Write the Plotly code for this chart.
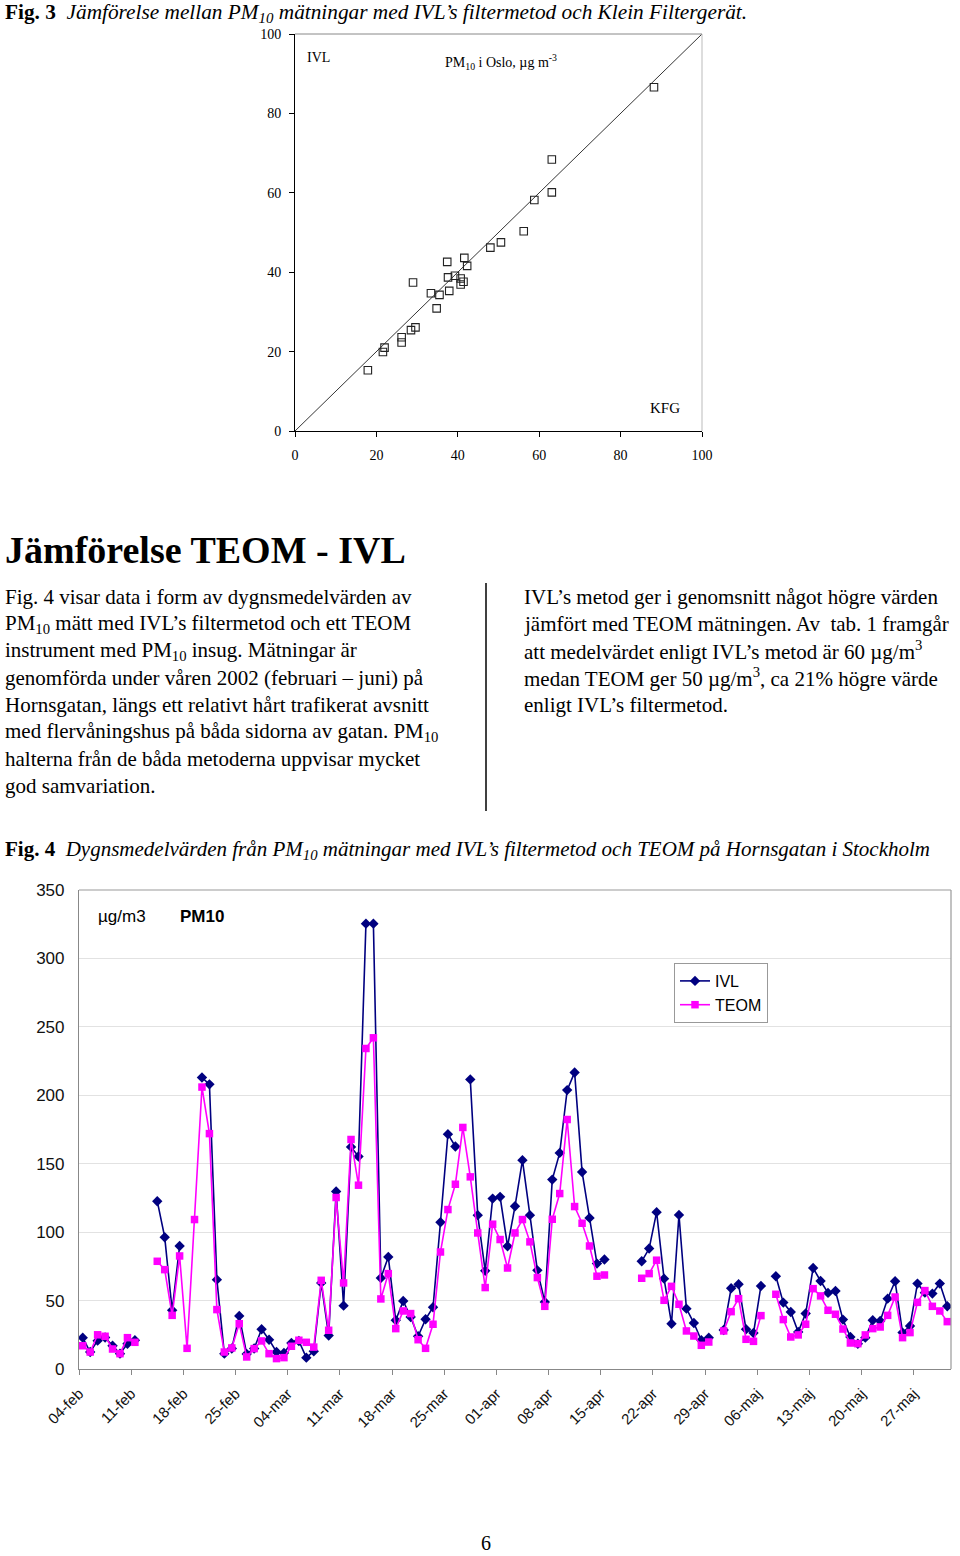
import plotly.graph_objects as go

# ---------------- Fig. 3 data (KFG vs IVL, PM10 Oslo) ----------------
kfg = [17.9, 21.6, 22.0, 26.2, 26.2, 28.5, 29.6, 29.0, 33.4, 35.5, 34.8, 37.4,
       37.6, 37.9, 39.3, 40.7, 40.7, 41.4, 41.6, 42.3, 48.0, 50.6, 56.2, 58.8,
       63.1, 63.1, 88.2]
ivl_oslo = [15.3, 19.9, 21.0, 22.3, 23.6, 25.4, 26.1, 37.4, 34.7, 34.3, 30.9, 42.6,
            38.7, 35.3, 39.1, 38.4, 36.9, 37.6, 43.6, 41.6, 46.2, 47.5, 50.3, 58.2,
            60.1, 68.4, 86.6]
diag = [0, 100]
sc_ticks = [0, 20, 40, 60, 80, 100]

# ---------------- Fig. 4 data (daily means, Hornsgatan) ----------------
# day index 0 = 04-feb
days = list(range(117))
N = None
ivl = [22.9, 12.4, 20.7, 23.0, 17.0, 11.2, 18.5, 21.0, N, N,
       122.6, 96.3, 42.9, 89.9, N, N, 213.0, 208.0, 65.3, 11.2,
       15.0, 38.8, 11.0, 15.0, 29.0, 21.4, 12.4, 11.7, 19.0, 20.5,
       8.3, 12.9, 62.9, 24.4, 129.7, 46.3, 162.3, 155.3, 325.4, 325.4,
       66.5, 81.9, 35.6, 49.7, 38.0, 23.9, 36.3, 45.1, 107.2, 171.6,
       162.6, N, 211.6, 112.4, 71.7, 124.5, 125.8, 89.7, 118.9, 152.6,
       112.4, 72.1, 49.0, 138.4, 157.9, 203.8, 216.7, 144.0, 110.4, 77.0,
       80.0, N, N, N, N, 78.7, 88.0, 114.6, 66.0, 33.1,
       112.6, 44.1, 33.6, 21.0, 22.9, N, 28.5, 59.0, 61.9, 29.0,
       26.3, 60.7, N, 67.8, 48.5, 41.7, 27.1, 40.5, 73.8, 64.3,
       55.6, 57.0, 36.1, 23.4, 18.5, 22.9, 35.6, 35.1, 51.4, 64.1,
       26.6, 31.4, 62.4, 55.8, 55.1, 62.4, 45.8]
teom = [17.0, 12.4, 25.0, 23.9, 14.6, 11.2, 22.9, 19.5, N, N,
        78.7, 72.6, 39.2, 82.6, 15.1, 109.2, 206.0, 172.0, 43.4, 12.4,
        15.4, 33.1, 8.8, 14.9, 20.5, 11.2, 7.6, 8.3, 16.6, 21.0,
        19.5, 16.0, 64.8, 28.3, 125.3, 62.9, 167.7, 134.3, 234.2, 242.0,
        51.2, 69.7, 29.5, 42.4, 40.5, 21.4, 15.1, 32.7, 85.5, 116.5,
        135.0, 176.5, 140.4, 99.4, 59.5, 105.8, 94.6, 73.8, 99.4, 109.2,
        92.9, 66.8, 45.8, 109.4, 128.2, 182.3, 118.7, 106.5, 89.9, 67.8,
        68.7, N, N, N, N, 66.3, 69.7, 79.5, 50.2, 60.4,
        47.3, 27.8, 24.1, 17.3, 19.7, N, 27.8, 41.9, 51.4, 21.7,
        20.2, 39.0, N, 54.6, 36.1, 23.4, 24.9, 32.7, 58.7, 53.4,
        42.9, 40.0, 29.2, 19.0, 18.5, 24.9, 29.5, 30.7, 39.2, 52.6,
        22.9, 26.6, 48.7, 57.3, 45.8, 42.4, 34.6]
week_labels = ["04-feb", "11-feb", "18-feb", "25-feb", "04-mar", "11-mar",
               "18-mar", "25-mar", "01-apr", "08-apr", "15-apr", "22-apr",
               "29-apr", "06-maj", "13-maj", "20-maj", "27-maj"]
week_pos = [7 * i for i in range(len(week_labels))]
y_ticks = [0, 50, 100, 150, 200, 250, 300, 350]

W, H = 960, 1556
def px(x): return x / W
def py(y): return 1 - y / H

SERIF = "Liberation Serif, Times New Roman, serif"
SANS = "Liberation Sans, Arial, sans-serif"

fig = go.Figure()

# Scatter (Fig. 3)
fig.add_trace(go.Scatter(x=diag, y=diag, mode="lines",
                         line=dict(color="black", width=0.8),
                         xaxis="x", yaxis="y", showlegend=False, hoverinfo="skip"))
fig.add_trace(go.Scatter(x=kfg, y=ivl_oslo, mode="markers",
                         marker=dict(symbol="square-open", size=7.5, color="#222",
                                     line=dict(width=1.1)),
                         xaxis="x", yaxis="y", showlegend=False))

# Line chart (Fig. 4)
xpos = [d + 0.5 for d in days]
fig.add_trace(go.Scatter(x=xpos, y=ivl, mode="lines+markers", name="IVL",
                         line=dict(color="#000080", width=1.6),
                         marker=dict(symbol="diamond", size=8, color="#000080"),
                         xaxis="x2", yaxis="y2"))
fig.add_trace(go.Scatter(x=xpos, y=teom, mode="lines+markers", name="TEOM",
                         line=dict(color="#FF00FF", width=1.6),
                         marker=dict(symbol="square", size=7.5, color="#FF00FF"),
                         xaxis="x2", yaxis="y2"))

fig.update_layout(
    width=W, height=H, margin=dict(l=0, r=0, t=0, b=0, autoexpand=False),
    paper_bgcolor="white", plot_bgcolor="white",
    xaxis=dict(domain=[px(295), px(702)], anchor="y", range=[0, 100],
               automargin=False,
               tickvals=sc_ticks, showgrid=False, zeroline=False,
               showline=True, linecolor="black", linewidth=1,
               ticks="outside", ticklen=5, tickcolor="black", ticklabelstandoff=6,
               tickfont=dict(family=SERIF, size=14, color="black")),
    yaxis=dict(domain=[py(431), py(34)], anchor="x", range=[0, 100],
               automargin=False,
               tickvals=sc_ticks, showgrid=False, zeroline=False,
               showline=True, linecolor="black", linewidth=1,
               ticks="outside", ticklen=5, tickcolor="black", ticklabelstandoff=5,
               tickfont=dict(family=SERIF, size=14, color="black")),
    xaxis2=dict(domain=[px(79), px(951)], anchor="y2", range=[0, 117],
                automargin=False,
                tickvals=week_pos, ticktext=week_labels, tickangle=-45,
                showgrid=False, zeroline=False,
                showline=True, linecolor="#888", linewidth=1.2,
                ticks="outside", ticklen=5, tickcolor="#888", ticklabelstandoff=4,
                tickfont=dict(family=SANS, size=15, color="#111")),
    yaxis2=dict(domain=[py(1369), py(890)], anchor="x2", range=[0, 350],
                automargin=False,
                tickvals=y_ticks, showgrid=True, gridcolor="#e2e2e2", gridwidth=1,
                zeroline=False, showline=True, linecolor="#888", linewidth=1.2,
                ticks="", ticklabelstandoff=10,
                tickfont=dict(family=SANS, size=17, color="#111")),
    legend=dict(x=px(674), y=py(963), xanchor="left", yanchor="top",
                bgcolor="white", bordercolor="#999", borderwidth=1,
                font=dict(family=SANS, size=16, color="black"),
                tracegroupgap=0, itemwidth=30),
    shapes=[
        # scatter box (top/right)
        dict(type="line", xref="x domain", yref="y domain", x0=0, x1=1, y0=1, y1=1,
             line=dict(color="#888", width=1)),
        dict(type="line", xref="x domain", yref="y domain", x0=1, x1=1, y0=0, y1=1,
             line=dict(color="#bbb", width=1)),
        # line chart box
        dict(type="line", xref="x2 domain", yref="y2 domain", x0=0, x1=1, y0=1, y1=1,
             line=dict(color="#999", width=1.2)),
        dict(type="line", xref="x2 domain", yref="y2 domain", x0=1, x1=1, y0=0, y1=1,
             line=dict(color="#999", width=1.2)),
        # column divider
        dict(type="line", xref="paper", yref="paper", x0=px(486), x1=px(486),
             y0=py(583), y1=py(811), line=dict(color="black", width=1.5)),
    ],
)

ann = []
def add(text, x, y, size, family=SERIF, xanchor="left", color="black"):
    ann.append(dict(text=text, x=px(x), y=py(y), xref="paper", yref="paper",
                    xanchor=xanchor, yanchor="middle", showarrow=False,
                    font=dict(family=family, size=size, color=color)))

add("<b>Fig. 3</b>  <i>Jämförelse mellan PM<sub>10</sub> mätningar med IVL’s filtermetod och Klein Filtergerät.</i>",
    3, 13, 21.3)
add("IVL", 305, 58, 14)
add("PM<sub>10</sub> i Oslo, µg m<sup>-3</sup>", 443, 62, 14)
add("KFG", 648, 408, 15)

add("<b>Jämförelse TEOM - IVL</b>", 3, 550, 38)

left_lines = [
    "Fig. 4 visar data i form av dygnsmedelvärden av",
    "PM<sub>10</sub> mätt med IVL’s filtermetod och ett TEOM",
    "instrument med PM<sub>10</sub> insug. Mätningar är",
    "genomförda under våren 2002 (februari – juni) på",
    "Hornsgatan, längs ett relativt hårt trafikerat avsnitt",
    "med flervåningshus på båda sidorna av gatan. PM<sub>10</sub>",
    "halterna från de båda metoderna uppvisar mycket",
    "god samvariation.",
]
right_lines = [
    "IVL’s metod ger i genomsnitt något högre värden",
    "jämfört med TEOM mätningen. Av  tab. 1 framgår",
    "att medelvärdet enligt IVL’s metod är 60 µg/m<sup>3</sup>",
    "medan TEOM ger 50 µg/m<sup>3</sup>, ca 21% högre värde",
    "enligt IVL’s filtermetod.",
]
for i, t in enumerate(left_lines):
    add(t, 3, 597 + 27 * i, 21)
for i, t in enumerate(right_lines):
    add(t, 522, 597 + 27 * i, 21)

add("<b>Fig. 4</b>  <i>Dygnsmedelvärden från PM<sub>10</sub> mätningar med IVL’s filtermetod och TEOM på Hornsgatan i Stockholm</i>",
    3, 850, 21)

add("µg/m3", 96, 916, 17, family=SANS)
add("<b>PM10</b>", 178, 916, 17, family=SANS)

add("6", 486, 1543, 20, xanchor="center")

fig.update_layout(annotations=ann)
fig.write_html("out.html",
               config={"displayModeBar": False},
               post_script="document.body.style.margin='0';"
                           "document.body.style.overflow='hidden';")
